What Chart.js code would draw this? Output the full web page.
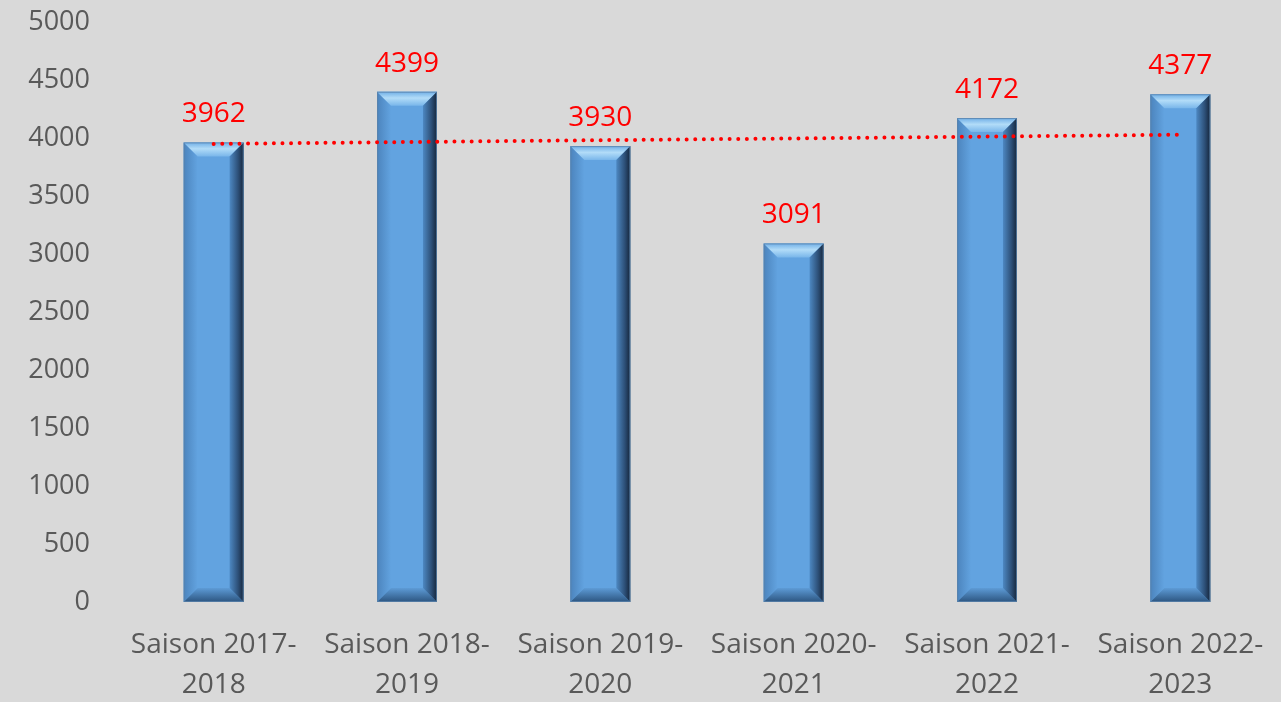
<!DOCTYPE html>
<html>
<head>
<meta charset="utf-8">
<script src="https://cdn.jsdelivr.net/npm/chart.js@4/dist/chart.umd.min.js"></script>
<style>
html,body{margin:0;padding:0;background:#d9d9d9;}
#wrap{width:1281px;height:702px;position:relative;}
</style>
</head>
<body>
<div id="wrap"><canvas id="c" width="1281" height="702"></canvas></div>
<script>
const categories = [["Saison 2017-","2018"],["Saison 2018-","2019"],["Saison 2019-","2020"],["Saison 2020-","2021"],["Saison 2021-","2022"],["Saison 2022-","2023"]];
const values = [3962, 4399, 3930, 3091, 4172, 4377];
const trendValues = [3949, 3965, 3981, 3996, 4012, 4028];
const yTicks = [0, 500, 1000, 1500, 2000, 2500, 3000, 3500, 4000, 4500, 5000];

const bevelPlugin = {
  id: 'bevel',
  afterDatasetDraw(chart, args) {
    if (args.index !== 0) return;
    const ctx = chart.ctx;
    const meta = chart.getDatasetMeta(0);
    meta.data.forEach(el => {
      const p = el.getProps(['x','y','base','width'], true);
      const l = p.x - p.width/2, r = p.x + p.width/2, t = p.y, b = p.base;
      const bv = 14;
      ctx.save();
      // left
      let g = ctx.createLinearGradient(l,0,l+bv,0);
      g.addColorStop(0,'#4c84bd'); g.addColorStop(1,'#62a3e0');
      ctx.fillStyle = g;
      ctx.beginPath(); ctx.moveTo(l,t); ctx.lineTo(l+bv,t+bv); ctx.lineTo(l+bv,b-bv); ctx.lineTo(l,b); ctx.closePath(); ctx.fill();
      // bottom
      g = ctx.createLinearGradient(0,b-bv,0,b);
      g.addColorStop(0,'#5d9bd6'); g.addColorStop(1,'#2c5580');
      ctx.fillStyle = g;
      ctx.beginPath(); ctx.moveTo(l,b); ctx.lineTo(l+bv,b-bv); ctx.lineTo(r-bv,b-bv); ctx.lineTo(r,b); ctx.closePath(); ctx.fill();
      // top
      g = ctx.createLinearGradient(0,t,0,t+bv);
      g.addColorStop(0,'#6faee6'); g.addColorStop(0.45,'#b2dcf8'); g.addColorStop(1,'#79b6ea');
      ctx.fillStyle = g;
      ctx.beginPath(); ctx.moveTo(l,t); ctx.lineTo(r,t); ctx.lineTo(r-bv,t+bv); ctx.lineTo(l+bv,t+bv); ctx.closePath(); ctx.fill();
      // right
      g = ctx.createLinearGradient(r-bv,0,r,0);
      g.addColorStop(0,'#4d88c2'); g.addColorStop(0.6,'#2d5078'); g.addColorStop(1,'#15253a');
      ctx.fillStyle = g;
      ctx.beginPath(); ctx.moveTo(r,t); ctx.lineTo(r,b); ctx.lineTo(r-bv,b-bv); ctx.lineTo(r-bv,t+bv); ctx.closePath(); ctx.fill();
      ctx.strokeStyle = 'rgba(90,130,170,0.8)'; ctx.lineWidth = 1;
      ctx.strokeRect(l+0.5,t+0.5,p.width-1,b-t-1);
      ctx.restore();
    });
  },
  afterDatasetsDraw(chart) {
    const ctx = chart.ctx;
    const meta = chart.getDatasetMeta(0);
    ctx.save();
    ctx.fillStyle = '#ff0000';
    ctx.font = '28px "Open Sans"';
    ctx.textAlign = 'center';
    ctx.textBaseline = 'alphabetic';
    meta.data.forEach((el, i) => {
      ctx.fillText(String(values[i]), el.x, el.y - 20);
    });
    ctx.restore();
  }
};

new Chart(document.getElementById('c'), {
  data: {
    labels: categories,
    datasets: [
      {
        type: 'bar',
        data: values,
        backgroundColor: '#62a3e0',
        borderWidth: 0,
        categoryPercentage: 1,
        barPercentage: 0.31,
        order: 2
      },
      {
        type: 'line',
        data: trendValues,
        borderColor: '#ff0000',
        borderWidth: 4,
        borderDash: [0, 8.6],
        borderCapStyle: 'round',
        pointRadius: 0,
        fill: false,
        tension: 0,
        order: 1
      }
    ]
  },
  plugins: [bevelPlugin],
  options: {
    responsive: false,
    animation: false,
    layout: { padding: { top: 22, right: 4, bottom: 0, left: 0 } },
    plugins: { legend: { display: false }, tooltip: { enabled: false } },
    scales: {
      x: {
        grid: { display: false, drawTicks: false },
        border: { display: false },
        afterFit(scale) { scale.height = 100; scale.paddingLeft = 0; scale.paddingRight = 0; },
        ticks: { color: '#595959', font: { family: 'Open Sans', size: 28, lineHeight: 1.43 }, padding: 23, maxRotation: 0, autoSkip: false }
      },
      y: {
        min: 0, max: 5000,
        afterBuildTicks(scale) { scale.ticks = yTicks.map(v => ({ value: v })); },
        afterFit(scale) { scale.width = 117; scale.paddingTop = 0; scale.paddingBottom = 0; },
        grid: { display: false, drawTicks: false },
        border: { display: false },
        ticks: { color: '#595959', font: { family: 'Open Sans', size: 27 }, padding: 27, callback: v => String(v) }
      }
    }
  }
});
</script>
</body>
</html>
